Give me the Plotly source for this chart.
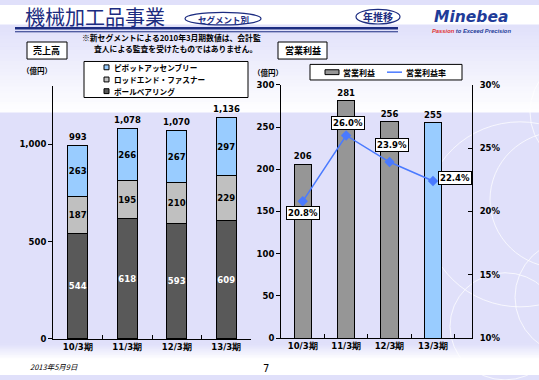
import plotly.graph_objects as go

W, H = 539, 380

# ---------------- data ----------------
categories = ["10/3期", "11/3期", "12/3期", "13/3期"]
ball_bearing = [544, 618, 593, 609]
rod_end = [187, 195, 210, 229]
pivot = [263, 266, 267, 297]
sales_total = [993, 1078, 1070, 1136]
op_income = [206, 281, 256, 255]
op_margin = [20.8, 26.0, 23.9, 22.4]
sales_ticks = [0, 500, 1000]
income_ticks = [0, 50, 100, 150, 200, 250, 300]
margin_ticks = [10, 15, 20, 25, 30]

# ---------------- styles ----------------
NUM = "DejaVu Sans"
JP = "Noto Sans CJK JP"
NAVY = "#1C2C80"
LAV = (224, 224, 250)
C_BALL = "#595959"
C_ROD = "#C0C0C0"
C_PIVOT = "#99CCFF"
C_INC = "#969696"
C_LINE = "#4A7AFF"
income_colors = [C_INC, C_INC, C_INC, C_PIVOT]
margin_label_shift = [(0, -12), (2, 12), (2, 17), (22, 3)]


def X(px):
    return px / W


def Y(py):
    return 1 - py / H


def bfont(size, color="black", family=NUM):
    return dict(family=family, size=size, color=color, weight="bold")


fig = go.Figure()

# left stacked bars
for vals, col, tcol in [(ball_bearing, C_BALL, "white"), (rod_end, C_ROD, "black"), (pivot, C_PIVOT, "black")]:
    fig.add_trace(go.Bar(
        x=categories, y=vals, xaxis="x", yaxis="y", width=0.4,
        marker=dict(color=col, line=dict(color="black", width=1)),
        text=vals, textposition="inside", insidetextanchor="middle", textangle=0,
        constraintext="none", textfont=bfont(8.5, tcol), hoverinfo="skip"))

# right bars
fig.add_trace(go.Bar(
    x=categories, y=op_income, xaxis="x2", yaxis="y2", width=0.4,
    marker=dict(color=income_colors, line=dict(color="black", width=1)),
    text=op_income, textposition="outside", textangle=0, constraintext="none",
    textfont=bfont(8.5), cliponaxis=False, hoverinfo="skip"))

# margin line
fig.add_trace(go.Scatter(
    x=categories, y=op_margin, xaxis="x2", yaxis="y3", mode="lines+markers",
    line=dict(color=C_LINE, width=1.5),
    marker=dict(symbol="diamond", size=8, color=C_LINE), hoverinfo="skip"))

annotations = []
# totals
for c, t in zip(categories, sales_total):
    annotations.append(dict(x=c, y=t, xref="x", yref="y", text=f"{t:,}", showarrow=False,
                            yshift=9, font=bfont(8.5)))
# margin labels
for c, m, (dx, dy) in zip(categories, op_margin, margin_label_shift):
    annotations.append(dict(x=c, y=m, xref="x2", yref="y3", text=f"{m:.1f}%", showarrow=False,
                            xshift=dx, yshift=dy, font=bfont(8.5), bgcolor="white",
                            bordercolor="black", borderwidth=1, borderpad=1))


def ptext(x, y, text, size, color="black", family=JP, bold=True, xanchor="center", italic=False):
    f = dict(family=family, size=size, color=color)
    if bold:
        f["weight"] = "bold"
    if italic:
        f["style"] = "italic"
    annotations.append(dict(x=X(x), y=Y(y), xref="paper", yref="paper", text=text, showarrow=False,
                            xanchor=xanchor, yanchor="middle", font=f))


# header texts
ptext(23, 12, "機械加工品事業", 20, NAVY, bold=False, xanchor="left")
ptext(223, 14, "セグメント別", 8.5, NAVY)
ptext(378, 12, "年推移", 10, NAVY)
ptext(471, 12.5, "Minebea", 15.5, "#1F3C99", family=NUM, italic=True)
ptext(430, 27, "<span style='color:#E03030'>Passion</span> to Exceed Precision", 5.8, "#1F3C99",
      family="Liberation Sans", italic=True, xanchor="left")
ptext(171, 33, "※新セグメントによる2010年3月期数値は、会計監", 7.8)
ptext(175, 45, "査人による監査を受けたものではありません。", 7.8)
ptext(47, 47, "売上高", 9)
ptext(302.5, 47, "営業利益", 9)
ptext(37, 67, "（億円）", 7.5)
ptext(268, 69, "（億円）", 7.5)
# left legend
ptext(112, 64, "ピボットアッセンブリー", 7.6, xanchor="left")
ptext(112, 76.5, "ロッドエンド・ファスナー", 7.6, xanchor="left")
ptext(112, 88.5, "ボールベアリング", 7.6, xanchor="left")
# right legend
ptext(341, 69, "営業利益", 8, xanchor="left")
ptext(404, 69, "営業利益率", 8, xanchor="left")
# footer
ptext(28, 371, "2013年5月9日", 7.5, bold=False, xanchor="left", italic=True)
ptext(266, 373, "7", 10, family=NUM, bold=False)

shapes = []


def mix(t):
    r = [round(255 + (L - 255) * t) for L in LAV]
    return f"rgb({r[0]},{r[1]},{r[2]})"


# background gradient top
steps = 24
for i in range(steps):
    y0 = 20 + i * (90 / steps)
    y1 = y0 + 90 / steps + 0.5
    shapes.append(dict(type="rect", xref="paper", yref="paper", x0=0, x1=1, y0=Y(y1), y1=Y(y0),
                       fillcolor=mix(1 - (i + 0.5) / steps), line=dict(width=0), layer="below"))
shapes.append(dict(type="rect", xref="paper", yref="paper", x0=0, x1=1, y0=Y(20), y1=1,
                   fillcolor="white", line=dict(width=0), layer="below"))
# bottom gradient
steps = 12
for i in range(steps):
    y0 = 348 + i * (16 / steps)
    y1 = y0 + 16 / steps + 0.5
    shapes.append(dict(type="rect", xref="paper", yref="paper", x0=0, x1=1, y0=Y(y1), y1=Y(y0),
                       fillcolor=mix(1 - (i + 0.5) / steps), line=dict(width=0), layer="below"))
shapes.append(dict(type="rect", xref="paper", yref="paper", x0=0, x1=1, y0=0, y1=Y(364),
                   fillcolor="white", line=dict(width=0), layer="below"))

# decorative circles
for cx, cy, r in [(520, 215, 95), (560, 200, 70), (575, 300, 60), (505, 330, 55), (590, 110, 60)]:
    shapes.append(dict(type="circle", xref="paper", yref="paper", x0=X(cx - r), x1=X(cx + r),
                       y0=Y(cy + r), y1=Y(cy - r), line=dict(color="rgba(255,255,255,0.75)", width=1),
                       layer="below"))

# title lines
shapes.append(dict(type="line", xref="paper", yref="paper", x0=X(15), x1=X(398), y0=Y(24), y1=Y(24),
                   line=dict(color=NAVY, width=2.5)))
shapes.append(dict(type="line", xref="paper", yref="paper", x0=X(15), x1=X(398), y0=Y(27.5), y1=Y(27.5),
                   line=dict(color=NAVY, width=1)))
# ovals
shapes.append(dict(type="circle", xref="paper", yref="paper", x0=X(185), x1=X(261), y0=Y(20.5), y1=Y(7.5),
                   line=dict(color=NAVY, width=1.2)))
shapes.append(dict(type="circle", xref="paper", yref="paper", x0=X(356), x1=X(400), y0=Y(19.5), y1=Y(4.5),
                   line=dict(color=NAVY, width=1.2)))


def box(x0, y0, x1, y1, fill="white", width=1):
    shapes.append(dict(type="rect", xref="paper", yref="paper", x0=X(x0), x1=X(x1), y0=Y(y1), y1=Y(y0),
                       fillcolor=fill, line=dict(color="black", width=width)))


box(27, 38, 67, 55.5)
box(278, 38, 327, 55.5)
box(84, 58, 248, 95)
box(310, 61, 462, 77)
# legend swatches
box(104, 61.5, 109, 66.5, C_PIVOT)
box(104, 74, 109, 79, C_ROD)
box(104, 86, 109, 91, C_BALL)
box(325, 66.5, 339, 71.5, C_INC)
shapes.append(dict(type="line", xref="paper", yref="paper", x0=X(387), x1=X(402), y0=Y(69), y1=Y(69),
                   line=dict(color=C_LINE, width=1.5)))

fig.add_trace(go.Scatter(x=[X(394.5)], y=[Y(69)], xaxis="x4", yaxis="y4", mode="markers",
                         marker=dict(symbol="diamond", size=7, color=C_LINE), hoverinfo="skip"))

axis_common = dict(showline=True, linecolor="black", linewidth=1, showgrid=False, zeroline=False,
                   tickcolor="black", tickfont=bfont(8.5))

fig.update_layout(
    width=W, height=H, margin=dict(l=0, r=0, t=0, b=0),
    paper_bgcolor=f"rgb{LAV}", plot_bgcolor="rgba(0,0,0,0)",
    barmode="stack", showlegend=False,
    xaxis=dict(domain=[X(53), X(251)], anchor="y", ticks="inside", tickson="boundaries", ticklen=4,
               **axis_common),
    yaxis=dict(domain=[Y(343), Y(83)], range=[0, 1300], anchor="x", tickvals=sales_ticks,
               ticktext=[f"{v:,}" for v in sales_ticks], ticks="outside", ticklen=4, **axis_common),
    xaxis2=dict(domain=[X(281), X(472)], anchor="y2", ticks="inside", tickson="boundaries", ticklen=4,
                **axis_common),
    yaxis2=dict(domain=[Y(342), Y(82)], range=[0, 300], anchor="x2", tickvals=income_ticks,
                ticks="outside", ticklen=4, **axis_common),
    yaxis3=dict(range=[10, 30], overlaying="y2", side="right", anchor="x2", tickvals=margin_ticks,
                ticktext=[f"{v}%" for v in margin_ticks], ticks="inside", ticklen=4,
                ticklabelstandoff=5, **axis_common),
    xaxis4=dict(domain=[0, 1], range=[0, 1], visible=False, anchor="y4"),
    yaxis4=dict(domain=[0, 1], range=[0, 1], visible=False, anchor="x4"),
    annotations=annotations, shapes=shapes,
)

fig.write_html("out.html", config={"displayModeBar": False, "staticPlot": True},
               post_script="document.body.style.margin='0';document.body.style.overflow='hidden';")
